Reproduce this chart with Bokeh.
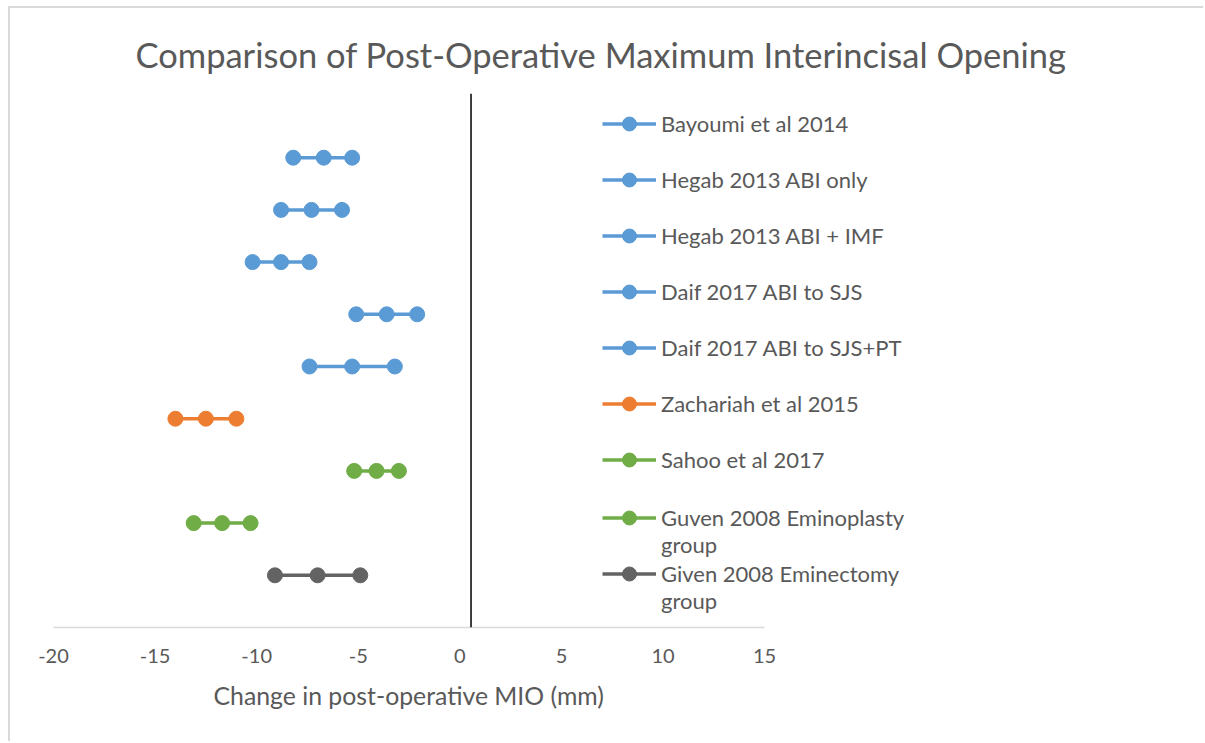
from bokeh.plotting import figure
from bokeh.models import Legend, LegendItem, Span, ColumnDataSource, Range1d, FixedTicker, Title
from bokeh.embed import file_html
from bokeh.resources import INLINE

studies = [
    "Bayoumi et al 2014",
    "Hegab 2013 ABI only",
    "Hegab 2013 ABI + IMF",
    "Daif 2017 ABI to SJS",
    "Daif 2017 ABI to SJS+PT",
    "Zachariah et al 2015",
    "Sahoo et al 2017",
    "Guven 2008 Eminoplasty\ngroup",
    "Given 2008 Eminectomy\ngroup",
]
lower = [-8.2, -8.8, -10.2, -5.1, -7.4, -14.0, -5.2, -13.1, -9.1]
mean = [-6.7, -7.3, -8.8, -3.6, -5.3, -12.5, -4.1, -11.7, -7.0]
upper = [-5.3, -5.8, -7.4, -2.1, -3.2, -11.0, -3.0, -10.3, -4.9]
colors = ["#5B9BD5", "#5B9BD5", "#5B9BD5", "#5B9BD5", "#5B9BD5",
          "#ED7D31", "#70AD47", "#70AD47", "#636363"]
x_ticks = [-20, -15, -10, -5, 0, 5, 10, 15]
axis_bounds = (-20, 15)
ref_line_x = 0.55
x_view_end = 36.7   # frame extends right so the legend is not clipped

FONT = "Lato"
GREY = "#595959"

p = figure(width=1195, height=735, output_backend="svg", toolbar_location=None,
           x_range=Range1d(-20, x_view_end), y_range=Range1d(0, 10.23),
           y_axis_location=None,
           min_border_left=43, min_border_right=0,
           min_border_top=85, min_border_bottom=116)
p.styles = {"margin-left": "8px", "margin-top": "6px",
            "border-left": "2px solid #d9d9d9", "border-top": "2px solid #d9d9d9"}
p.background_fill_color = "white"
p.border_fill_color = "white"
p.outline_line_color = None
p.xgrid.visible = False
p.ygrid.visible = False

p.title.text = "Comparison of Post-Operative Maximum Interincisal Opening"
p.title.text_font = FONT
p.title.text_font_size = "34.5px"
p.title.text_font_style = "normal"
p.title.text_color = GREY
p.title.align = "left"
p.title.offset = 82
p.title.standoff = 38

ax = p.xaxis[0]
ax.ticker = FixedTicker(ticks=x_ticks)
ax.major_label_overrides = {t: str(t) for t in x_ticks}
ax.bounds = axis_bounds
ax.axis_line_color = "#d9d9d9"
ax.axis_line_width = 1.3
ax.major_tick_line_color = None
ax.minor_tick_line_color = None
ax.major_label_text_font = FONT
ax.major_label_text_font_size = "20px"
ax.major_label_text_color = GREY
ax.major_label_standoff = 15

xlabel = Title(text="Change in post-operative MIO (mm)", align="left", offset=160,
               vertical_align="top", standoff=31, text_font=FONT,
               text_font_size="24.8px", text_font_style="normal", text_color=GREY)
p.add_layout(xlabel, "below")

p.add_layout(Span(location=ref_line_x, dimension="height",
                  line_color="black", line_width=1.5))

n = len(studies)
items = []
for i in range(n):
    src = ColumnDataSource(dict(x=[lower[i], mean[i], upper[i]], y=[n - i] * 3))
    r1 = p.line("x", "y", source=src, line_color=colors[i], line_width=3.5)
    r2 = p.scatter("x", "y", source=src, size=15, fill_color=colors[i],
                   line_color=colors[i])
    label = studies[i]
    if "\n" in label:
        # leading blank line keeps the glyph level with the first text line
        label = " \n" + label
    items.append(LegendItem(label=label, renderers=[r1, r2]))

common = dict(orientation="vertical", glyph_width=54, glyph_height=35,
              label_standoff=5, spacing=21, padding=0, margin=0,
              border_line_color=None, background_fill_alpha=0,
              label_text_font=FONT, label_text_font_size="22px",
              label_text_line_height=1.27,
              label_text_color=GREY, label_height=35)
p.add_layout(Legend(items=items[:7], location=(549, 150), **common))
p.add_layout(Legend(items=items[7:8], location=(549, 69), **common))
p.add_layout(Legend(items=items[8:], location=(549, 13), **common))

open("out.html", "w").write(file_html(p, INLINE))
